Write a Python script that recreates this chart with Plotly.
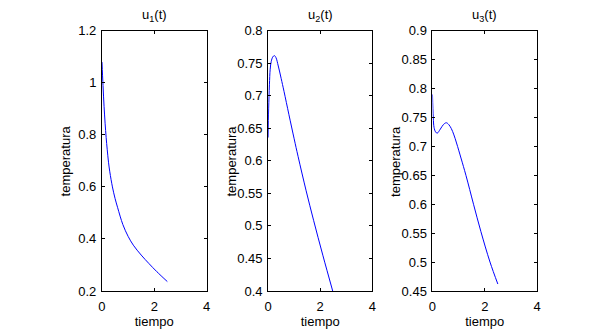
import plotly.graph_objects as go

# ---- data ----
t1 = [0.0, 0.04, 0.08, 0.12, 0.16, 0.2, 0.25, 0.3, 0.4, 0.5, 0.6, 0.8, 1.0, 1.2, 1.5, 1.8, 2.1, 2.5]
u1 = [1.08, 0.99, 0.91, 0.845, 0.79, 0.745, 0.695, 0.658, 0.600, 0.556, 0.520, 0.455, 0.410, 0.376, 0.338, 0.305, 0.274, 0.236]

t2 = [0.0, 0.02, 0.05, 0.08, 0.12, 0.18, 0.24, 0.3, 0.39, 0.5, 0.61, 0.8, 1.0, 1.15, 1.46, 1.75, 2.1, 2.5]
u2 = [0.636, 0.68, 0.717, 0.741, 0.753, 0.760, 0.762, 0.759, 0.746, 0.727, 0.707, 0.671, 0.634, 0.607, 0.554, 0.508, 0.455, 0.397]

t3 = [0.0, 0.03, 0.06, 0.12, 0.18, 0.3, 0.42, 0.53, 0.62, 0.72, 0.82, 0.92, 1.09, 1.28, 1.57, 1.85, 2.2, 2.5]
u3 = [0.79, 0.75, 0.733, 0.725, 0.723, 0.73, 0.738, 0.741, 0.738, 0.731, 0.72, 0.706, 0.68, 0.65, 0.60, 0.553, 0.500, 0.462]

titles = ["u<sub>1</sub>(t)", "u<sub>2</sub>(t)", "u<sub>3</sub>(t)"]
x_ticks = [0, 2, 4]
y_ranges = [[0.2, 1.2], [0.4, 0.8], [0.45, 0.9]]
y_dticks = [0.2, 0.05, 0.05]
xlabel = "tiempo"
ylabel = "temperatura"

W, H = 597, 334
x_domains = [[99.3 / W, 205.3 / W], [267.7 / W, 373.3 / W], [434.3 / W, 540.3 / W]]
y_domain = [1 - 297.3 / H, 1 - 25 / H]

font = dict(family="Liberation Sans, Arial, sans-serif", size=13, color="black")

fig = go.Figure()
series = [(t1, u1), (t2, u2), (t3, u3)]
annotations = []
for i, (t, u) in enumerate(series):
    sfx = "" if i == 0 else str(i + 1)
    fig.add_trace(go.Scatter(x=t, y=u, mode="lines", line=dict(color="#0000ff", width=1),
                             xaxis="x" + sfx, yaxis="y" + sfx, showlegend=False,
                             line_shape="spline"))
    axcommon = dict(showline=True, linecolor="black", linewidth=1, mirror="ticks",
                    ticks="inside", ticklen=3, tickcolor="black", showgrid=False,
                    zeroline=False, tickfont=font)
    fig.update_layout(**{
        "xaxis" + sfx: dict(domain=x_domains[i], range=[0, 4], tickvals=x_ticks,
                            anchor="y" + sfx, ticklabelstandoff=3,
                            title=dict(text=xlabel, font=font, standoff=2), **axcommon),
        "yaxis" + sfx: dict(domain=y_domain, range=y_ranges[i], dtick=y_dticks[i],
                            tick0=y_ranges[i][0], anchor="x" + sfx, ticklabelstandoff=2,
                            **axcommon),
    })
    cx = (x_domains[i][0] + x_domains[i][1]) / 2
    annotations.append(dict(text=titles[i], x=cx, y=1, xref="paper", yref="paper",
                            showarrow=False, xanchor="center", yanchor="top", yshift=2,
                            font=font))
    annotations.append(dict(text=ylabel, x=x_domains[i][0] - 37 / W, y=(y_domain[0] + y_domain[1]) / 2,
                            xref="paper", yref="paper", textangle=-90,
                            showarrow=False, xanchor="center", yanchor="middle", font=font))

fig.update_layout(width=W, height=H, margin=dict(l=0, r=0, t=0, b=0),
                  paper_bgcolor="white", plot_bgcolor="white", font=font,
                  annotations=annotations)
fig.write_html("out.html")
